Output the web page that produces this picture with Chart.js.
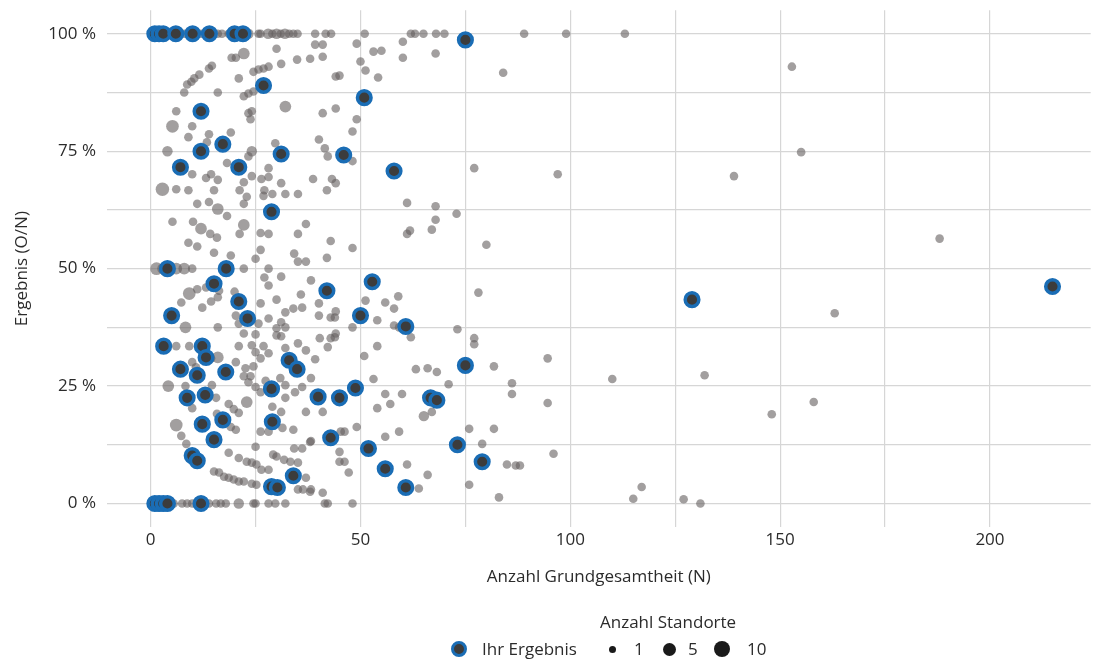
<!DOCTYPE html>
<html>
<head>
<meta charset="utf-8">
<script src="https://cdn.jsdelivr.net/npm/chart.js"></script>
<style>

body {
  margin: 0;
  background: #fff;
  font-family: "Open Sans", sans-serif;
  color: #2b2b2b;
}

#wrap {
  position: relative;
  width: 1101px;
  height: 664px;
}

.lg {
  position: absolute;
  font-size: 17px;
  line-height: 20px;
  white-space: nowrap;
}

.dot {
  position: absolute;
  border-radius: 50%;
  background: #1a1a1a;
}

.you {
  position: absolute;
  width: 10px;
  height: 10px;
  border: 3px solid #1a6db5;
  border-radius: 50%;
  background: #3c3c3c;
}

</style>
</head>
<body>

<div id="wrap">
  <canvas id="chart"></canvas>

  <div class="lg" style="left:600px; top:612px;">Anzahl Standorte</div>

  <span class="you" style="left:451px; top:641px;"></span>
  <div class="lg" style="left:482px; top:639px;">Ihr Ergebnis</div>

  <span class="dot" style="left:609px; top:646px; width:7px; height:7px;"></span>
  <div class="lg" style="left:634px; top:639px;">1</div>

  <span class="dot" style="left:663px; top:643px; width:13px; height:13px;"></span>
  <div class="lg" style="left:688px; top:639px;">5</div>

  <span class="dot" style="left:714px; top:641px; width:16px; height:16px;"></span>
  <div class="lg" style="left:747px; top:639px;">10</div>
</div>

<script>

// ==========================
// Daten
// ==========================

// Achsen
const xTicks = [0, 25, 50, 75, 100, 125, 150, 175, 200];
const yTicks = [0, 12.5, 25, 37.5, 50, 62.5, 75, 87.5, 100];

// Ihr Ergebnis: N und Ergebnis in %
const blueN = [
  1, 2, 3, 6, 10, 14, 20, 22,
  75, 26.9, 50.9, 12.0, 17.2, 12.0, 31.1, 46.0, 7.1, 21.0, 58.0, 28.8,
  4, 18, 52.8, 15.1, 42.0, 21.0, 129.0, 214.9, 23.1, 5.0, 50.0, 60.8,
  3.1, 12.3, 13.2, 33.0, 34.9, 7.1, 11.1, 17.9, 75.0,
  28.8, 48.8, 39.9, 45.0, 8.7, 13.0, 66.7, 68.2,
  12.3, 17.2, 29.0, 15.1, 42.9, 73.1, 51.9, 79.0, 9.9, 11.1,
  34.0, 28.8, 30.2, 55.9, 60.8,
  1, 2, 3, 4, 12
];
const bluePct = [
  100, 100, 100, 100, 100, 100, 100, 100,
  98.7, 89.0, 86.4, 83.5, 76.5, 75.0, 74.4, 74.2, 71.6, 71.6, 70.8, 62.1,
  50, 50, 47.2, 46.8, 45.3, 43.0, 43.4, 46.2, 39.4, 40.0, 40.0, 37.7,
  33.5, 33.5, 31.1, 30.5, 28.6, 28.6, 27.3, 28.0, 29.4,
  24.4, 24.6, 22.7, 22.5, 22.5, 23.1, 22.5, 22.0,
  16.9, 17.8, 17.4, 13.6, 14.0, 12.5, 11.7, 8.9, 10.2, 9.1,
  5.9, 3.6, 3.4, 7.4, 3.4,
  0, 0, 0, 0, 0
];

// alle Standorte: [N, Ergebnis %, Anzahl Standorte]
const grayPoints = [
  // 100 %
  [4,100,1],[5,100,1],[8,100,1],[12,100,1],[16,100,1],[17,100,1],[18.6,100,1],[23.3,100,2],
  [25.7,100,1],[26.2,100,1],[28,100,2],[29,100,1],[30,100,2],[31,100,1],[32,100,2],[33,100,1],
  [34,100,1],[35,100,1],[39.2,100,1],[41.7,100,1],[43,100,1],[51,100,1],[62,100,1],[63,100,1],
  [65,100,1],[68,100,1],[70,100,1],[89,100,1],[99,100,1],[113,100,1],

  // oben
  [30.0,96.8,1],[39.2,97.7,1],[41.0,97.7,1],[22.2,95.8,3],[19.3,94.9,1],[20.3,94.9,1],[34.9,94.5,1],
  [38.0,94.7,1],[41.0,95.1,1],[31.1,93.6,1],[28.1,93.0,1],[26.9,92.6,1],[25.7,92.4,1],[24.5,91.9,1],
  [14.6,93.2,1],[13.9,92.6,1],[11.6,91.3,1],[10.4,90.5,1],[9.7,89.8,1],[8.7,89.2,1],[8.0,87.5,1],
  [21.0,90.5,1],[16.0,87.5,1],[22.2,86.7,1],[23.3,87.3,1],[24.5,87.7,1],[32.1,84.5,3],[41.0,83.1,1],
  [6.1,83.5,1],[5.2,80.3,4],[9.9,80.3,1],[13.9,78.6,1],[19.1,79.0,1],[23.3,83.1,1],[24.1,83.5,1],
  [23.8,81.8,1],[9.0,78.0,1],[4.0,75.0,2],[13.4,76.9,1],[29.7,76.7,1],[24.1,75.0,2],[23.3,73.9,1],
  [18.2,72.5,1],[9.9,70.1,1],[13.2,69.3,1],[16.0,68.9,1],[14.4,70.1,1],[28.1,71.4,1],[22.2,68.4,1],
  [24.1,69.7,1],[26.4,69.1,1],[28.1,69.5,1],[31.1,68.2,1],[40.1,77.5,1],[41.5,75.6,1],[42.2,73.9,1],
  [38.7,69.1,1],[43.2,69.1,1],[44.1,90.9,1],[49.1,97.9,1],[60.1,98.3,1],[53.1,96.2,1],[55.0,96.4,1],
  [50.0,94.1,1],[60.1,94.9,1],[67.9,95.8,1],[45.0,91.1,1],[51.2,92.2,1],[54.2,90.7,1],[84.0,91.7,1],
  [44.1,84.1,1],[49.1,81.8,1],[48.1,79.2,1],[48.1,72.9,1],[77.1,71.4,1],[44.1,68.2,1],[61.1,64.0,1],
  [67.9,63.3,1],[67.9,60.4,1],[72.9,61.7,1],[61.8,58.1,1],[61.1,57.4,1],[67.0,58.3,1],[80.0,55.1,1],
  [42.0,66.7,1],[35.1,65.9,1],[37.0,59.5,1],[35.1,57.4,1],[42.9,55.9,1],[48.1,54.4,1],[27.1,66.7,1],
  [29.0,65.9,1],[32.1,65.9,1],[26.9,65.5,1],[26.2,57.6,1],[28.1,57.4,1],

  // rechts
  [152.8,93.0,1],[155,74.8,1],[97,70.1,1],[139,69.7,1],[188,56.4,1],[163,40.5,1],[94.6,30.9,1],
  [110,26.5,1],[132,27.3,1],[94.6,21.4,1],[158,21.6,1],[148,19.0,1],[96,10.6,1],[117,3.5,1],
  [115,1.0,1],[127,0.9,1],[131,0,1],

  // Mitte
  [2.8,66.9,5],[6.1,66.9,1],[9.0,66.7,1],[15.1,66.7,1],[21.2,66.7,1],[11.1,63.8,1],[13.9,64.2,1],
  [16.0,62.7,3],[18.2,61.2,1],[22.9,65.3,1],[22.2,63.8,1],[5.2,60.0,1],[10.1,60.0,1],[12.0,58.5,3],
  [14.2,57.4,1],[15.8,56.6,1],[21.2,57.4,1],[22.2,59.3,3],[9.0,55.5,1],[11.1,54.7,1],[15.1,53.4,1],
  [19.1,52.8,1],[26.2,54.0,1],[25.0,52.1,1],[34.2,53.2,1],[35.1,51.5,1],[37.0,51.5,1],[42.0,52.3,1],
  [1.4,50,4],[2.8,50,2],[6.1,50,3],[8.0,50,3],[9.9,50,1],[22.2,50,1],[28.1,50,1],
  [27.1,48.1,1],[28.1,46.4,1],[31.1,48.3,1],[38.2,47.5,1],[9.2,44.7,4],[11.1,45.6,1],[13.2,46.0,1],
  [16.3,45.3,1],[7.3,42.8,1],[12.3,41.7,1],[14.4,43.0,1],[16.0,43.9,1],[20.0,45.1,1],[26.2,42.6,1],
  [30.0,43.4,1],[35.8,44.5,1],[32.1,40.7,1],[34.0,41.5,1],[36.1,41.7,1],[40.1,42.6,1],[40.1,40.0,1],
  [42.9,39.6,1],[20.3,40.0,1],[21.0,38.3,1],[8.3,37.5,3],[16.0,37.5,1],[25.7,38.3,1],[28.1,39.4,1],
  [30.0,37.3,1],[31.1,38.6,1],[32.1,37.5,1],[30.0,35.8,1],[31.1,35.6,1],[35.1,34.1,1],[40.3,35.2,1],
  [42.9,35.2,1],[6.1,33.5,1],[9.2,33.5,1],[21.0,33.5,1],[24.1,33.7,1],[26.9,33.5,1],[22.2,36.2,1],
  [25.0,36.0,1],
  [51.2,43.2,1],[55.9,42.8,1],[59.0,44.1,1],[58.0,41.5,1],[44.1,40.9,1],[43.9,39.6,1],[78.1,44.9,1],
  [54.0,39.0,1],[58.0,37.9,1],[59.2,37.5,1],[48.1,37.5,1],[44.1,36.2,1],[43.9,35.4,1],[62.0,35.4,1],
  [73.1,37.1,1],[77.1,35.2,1],[77.1,33.9,1],[54.0,33.5,1],

  // unten rechts
  [50.9,31.4,1],[63.2,28.6,1],[66.0,28.8,1],[68.2,28.0,1],[81.8,29.2,1],[53.1,26.5,1],[71.0,25.4,1],
  [86.1,25.6,1],[86.1,23.3,1],[55.9,23.3,1],[59.9,23.3,1],[54.0,20.3,1],[57.1,21.2,1],[65.1,18.6,2],
  [67.0,19.5,1],[49.1,16.3,1],[46.2,15.3,1],[45.3,15.3,1],[55.9,14.2,1],[59.2,15.3,1],[75.9,15.9,1],
  [81.8,15.9,1],[79.0,12.7,1],[45.0,11.0,1],[45.0,8.9,1],[46.2,8.9,1],[47.2,6.6,1],[61.1,8.3,1],
  [66.0,6.1,1],[63.9,3.2,1],[84.9,8.3,1],[87.0,8.1,1],[88.0,8.1,1],[75.9,4.0,1],[83.0,1.3,1],
  [41.0,2.3,1],[38.2,3.0,1],[38.2,13.3,1],[36.1,11.7,1],[34.2,11.7,1],[37.0,5.5,1],[35.1,3.0,1],
  [36.3,3.0,1],

  // unten links
  [25.0,32.2,1],[28.1,32.0,1],[32.1,33.1,1],[37.0,32.6,1],[39.2,30.7,1],[42.2,33.3,1],[9.9,30.1,1],
  [10.8,29.0,1],[14.4,30.9,1],[16.0,31.1,3],[20.3,30.1,1],[22.6,28.8,1],[24.5,29.2,1],[26.2,30.9,1],
  [23.8,27.1,1],[22.2,27.1,1],[4.2,25.0,3],[8.3,25.0,1],[14.6,25.2,1],[23.3,25.8,1],[25.0,24.8,1],
  [26.2,23.7,1],[27.4,26.1,1],[28.1,24.8,1],[30.9,26.7,1],[32.1,25.2,1],[38.2,26.7,1],[36.1,24.8,1],
  [34.4,23.7,1],[32.1,22.5,1],[15.6,22.5,1],[9.9,20.3,1],[18.6,21.2,1],[19.8,20.1,1],[21.0,19.3,1],
  [22.9,21.6,3],[29.0,20.6,1],[31.1,19.5,1],[37.0,19.5,1],[41.0,19.5,1],[15.8,19.1,1],[6.1,16.7,4],
  [7.3,14.4,1],[8.5,12.7,1],[19.1,16.3,1],[20.3,15.7,1],[26.2,15.3,1],[28.1,15.3,1],[31.4,16.1,1],
  [34.0,15.7,1],[38.0,13.1,1],[25.0,12.1,1],[18.6,10.8,1],[21.0,9.7,1],[22.9,8.9,1],[24.1,8.7,1],
  [25.2,8.3,1],[26.4,7.2,1],[28.1,7.2,1],[29.2,10.4,1],[30.0,10.0,1],[31.8,9.3,1],[33.3,8.9,1],
  [35.1,8.7,1],[15.1,6.8,1],[16.3,6.6,1],[17.5,5.7,1],[18.6,5.5,1],[19.8,5.1,1],[21.0,4.7,1],
  [22.2,4.7,1],[24.1,4.2,1],[25.2,4.0,1],[38.0,2.5,1],

  // 0 %
  [3,0,1],[5.5,0,1],[7.5,0,1],[8.7,0,1],[9.9,0,1],[13.9,0,1],[15.6,0,1],[16.7,0,1],[17.9,0,1],
  [21.0,0,2],[24.5,0,1],[25.0,0,1],[28.1,0,1],[29.7,0,1],[32.1,0,1],[41.5,0,1],[42.2,0,1],[48.1,0,1]
];


// ==========================
// Chart
// ==========================

const font = { family: "'Open Sans', sans-serif", size: 17 };
const textColor = "#2b2b2b";
const gridColor = "#d6d6d6";

function radiusFor(count) {
  return 4.3 * Math.pow(count, 0.28);
}

// Beschriftung soll den Plotbereich nicht verschieben
function noLabelPadding(s) {
  s.paddingTop = 0;
  s.paddingBottom = 0;
  s.paddingLeft = 0;
  s.paddingRight = 0;
}

const canvas = document.getElementById("chart");
canvas.width = 1101;
canvas.height = 664;

new Chart(canvas, {

  type: "scatter",

  data: {
    datasets: [
      {
        label: "Ihr Ergebnis",
        data: blueN.map((n, i) => ({ x: n, y: bluePct[i] })),
        backgroundColor: "#3c3c3c",
        borderColor: "#1a6db5",
        borderWidth: 3.5,
        pointRadius: 6.8
      },
      {
        label: "Standorte",
        data: grayPoints.map(p => ({ x: p[0], y: p[1] })),
        backgroundColor: "rgba(100, 95, 95, 0.6)",
        borderWidth: 0,
        pointRadius: grayPoints.map(p => radiusFor(p[2]))
      }
    ]
  },

  options: {
    responsive: false,
    animation: false,
    events: [],
    layout: {
      padding: { left: 0, top: 8, right: 1, bottom: 73 }
    },
    plugins: {
      legend: { display: false },
      tooltip: { enabled: false }
    },
    scales: {
      x: {
        type: "linear",
        min: -10.4,
        max: 224,
        afterBuildTicks: s => { s.ticks = xTicks.map(v => ({ value: v })); },
        afterFit: s => { s.height = 64; noLabelPadding(s); },
        grid: { color: gridColor, lineWidth: 1.2, drawTicks: false },
        border: { display: false },
        ticks: {
          autoSkip: false,
          maxRotation: 0,
          padding: 3,
          font: font,
          color: textColor,
          callback: v => (v % 50 === 0 ? String(v) : "")
        },
        title: {
          display: true,
          text: "Anzahl Grundgesamtheit (N)",
          font: font,
          color: textColor,
          padding: { top: 0, bottom: 4 }
        }
      },
      y: {
        type: "linear",
        min: -5,
        max: 105,
        afterBuildTicks: s => { s.ticks = yTicks.map(v => ({ value: v })); },
        afterFit: s => { s.width = 107; noLabelPadding(s); },
        grid: { color: gridColor, lineWidth: 1.2, drawTicks: false },
        border: { display: false },
        ticks: {
          autoSkip: false,
          padding: 11,
          font: font,
          color: textColor,
          callback: v => (v % 25 === 0 ? v + " %" : "")
        },
        title: {
          display: true,
          text: "Ergebnis (O/N)",
          font: font,
          color: textColor,
          padding: { top: 12, bottom: 0 }
        }
      }
    }
  }

});

</script>

</body>
</html>
